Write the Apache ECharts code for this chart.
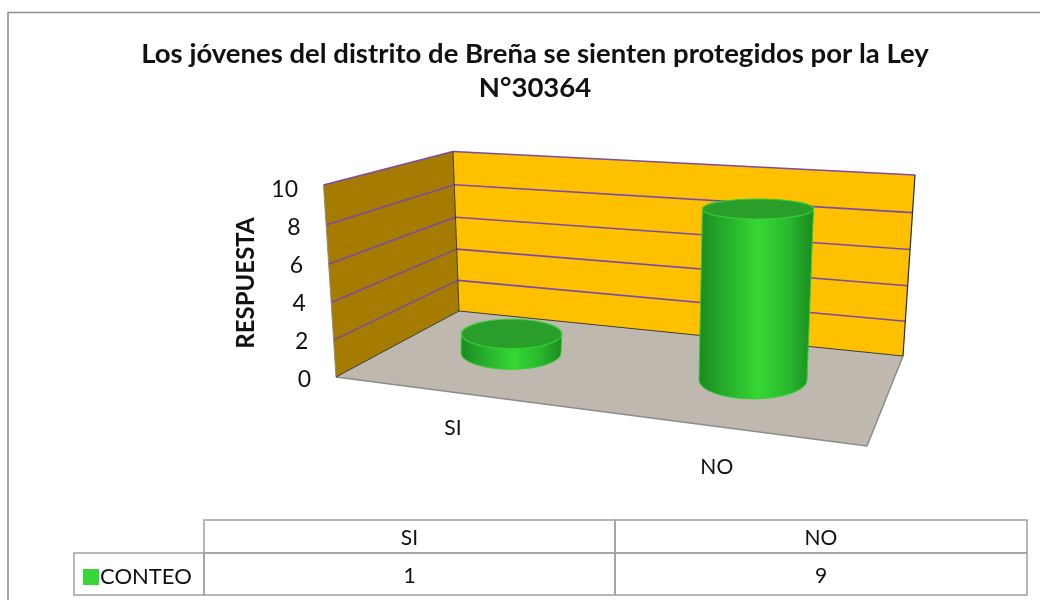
<!DOCTYPE html>
<html>
<head>
<meta charset="utf-8">
<style>html,body{margin:0;padding:0;background:#fff}#chart{width:1040px;height:600px}</style>
<script src="https://cdn.jsdelivr.net/npm/echarts@6/dist/echarts.min.js"></script>
</head>
<body>
<div id="chart"></div>
<script>
// datos del grafico
const categories = ['SI', 'NO'];
const conteo = [1, 9];
const yTicks = [0, 2, 4, 6, 8, 10];
const seriesName = 'CONTEO';
const yName = 'RESPUESTA';
const titleText = 'Los jóvenes del distrito de Breña se sienten protegidos por la Ley\nN°30364';

const FONT = 'Lato, "Noto Sans", sans-serif';
const GREEN = '#35d835';

// caja 3D: esquinas en pixeles (pared izq, pared fondo, piso)
const frontBottom = [336, 377], frontTop = [323.5, 185];
const backBottom = [459, 311], backTop = [453, 151.5];
const rightBottom = [903, 356], rightTop = [915, 175];
const floorFront = [867, 446];

function lerp(a, b, t) {
    return [a[0] + (b[0] - a[0]) * t, a[1] + (b[1] - a[1]) * t];
}

// ligera perspectiva en la altura
function heightAt(a, b, tick) {
    const t = tick / yTicks[yTicks.length - 1];
    return lerp(a, b, t - 0.05 * t * (1 - t));
}

function renderWalls(params, api) {
    const children = [];
    const poly = (points, fill, stroke, width) => ({
        type: 'polygon',
        shape: { points },
        style: { fill, stroke, lineWidth: width }
    });
    const seg = (p, q, color, width) => ({
        type: 'line',
        shape: { x1: p[0], y1: p[1], x2: q[0], y2: q[1] },
        style: { stroke: color, lineWidth: width }
    });
    children.push(poly([frontBottom, backBottom, rightBottom, floorFront], '#bfb8ae', null, 0));
    children.push(seg(frontBottom, floorFront, '#8c8c8c', 1.5));
    children.push(seg(floorFront, rightBottom, '#8c8c8c', 1.5));
    children.push(poly([frontBottom, frontTop, backTop, backBottom], '#a67c00', null, 0));
    children.push(poly([backBottom, backTop, rightTop, rightBottom], '#ffc000', null, 0));
    yTicks.forEach(tick => {
        if (tick === 0) return;
        const f = heightAt(frontBottom, frontTop, tick);
        const b = heightAt(backBottom, backTop, tick);
        const r = heightAt(rightBottom, rightTop, tick);
        children.push(seg(f, b, '#7b4aa8', 1.6));
        children.push(seg(b, r, '#7b4aa8', 1.6));
    });
    children.push(seg(frontBottom, frontTop, '#8c8c8c', 1));
    children.push(seg(frontBottom, backBottom, '#3a3a3a', 1));
    children.push(seg(backBottom, backTop, '#3a3a3a', 1));
    children.push(seg(backBottom, rightBottom, '#3a3a3a', 1));
    children.push(seg(rightBottom, rightTop, '#2a2a2a', 1.2));
    return { type: 'group', children };
}

function renderCylinder(params, api) {
    const cat = api.value(0);
    const val = api.value(1);
    const zero = api.coord([cat, 0]);
    const h = api.size([0, val])[1];
    const bx = zero[0];
    // el piso baja hacia la derecha
    const by = zero[1] - 25 + (bx - 511) * 0.1116;
    const tx = bx + h * 0.029;
    const ty = by - h;
    const ry = y => 10 + 0.0003 * (y - 208) * (y - 208);
    const rb = 50 + (bx - 511) * 0.0165;
    const rt = rb + h * 0.009;
    const grad = new echarts.graphic.LinearGradient(0, 0, 1, 0, [
        { offset: 0, color: '#1a8a20' },
        { offset: 0.2, color: '#25a82a' },
        { offset: 0.52, color: GREEN },
        { offset: 0.78, color: '#2ab82e' },
        { offset: 1, color: '#1a8a20' }
    ]);
    const rbY = ry(by), rtY = ry(ty);
    const body = 'M' + (tx - rt) + ' ' + ty + ' L' + (bx - rb) + ' ' + by +
        ' A' + rb + ' ' + rbY + ' 0 0 0 ' + (bx + rb) + ' ' + by +
        ' L' + (tx + rt) + ' ' + ty + ' Z';
    // etiqueta de categoria sobre el borde frontal del piso
    const lx = 453 + (bx - 511) * 1.09;
    const ly = 428 + (bx - 511) * 0.161;
    return {
        type: 'group',
        children: [
            {
                type: 'path',
                shape: { pathData: body },
                style: { fill: grad, stroke: '#32cf34', lineWidth: 1 }
            },
            {
                type: 'ellipse',
                shape: { cx: tx, cy: ty, rx: rt, ry: rtY },
                style: { fill: '#2a9e2a', stroke: '#32cf34', lineWidth: 1.2 }
            },
            {
                type: 'text',
                style: {
                    x: lx, y: ly, text: categories[cat],
                    fill: '#111', font: '21px ' + FONT,
                    align: 'center', verticalAlign: 'middle'
                }
            }
        ]
    };
}

// tabla de datos debajo del grafico
function buildTable() {
    const line = '#a0a0a0';
    const left = 74, x0 = 204, x1 = 615, x2 = 1027, y0 = 520, y1 = 553, y2 = 595;
    const xs = [x0, x1, x2];
    const els = [];
    const rect = (x, y, w, h) => ({
        type: 'rect',
        shape: { x, y, width: w, height: h },
        style: { fill: 'none', stroke: line, lineWidth: 1.5 }
    });
    const label = (x, y, text) => ({
        type: 'text',
        style: { x, y, text, fill: '#111', font: '21px ' + FONT, align: 'center', verticalAlign: 'middle' }
    });
    els.push(rect(left, y1, x0 - left, y2 - y1));
    categories.forEach((c, i) => {
        const w = xs[i + 1] - xs[i];
        els.push(rect(xs[i], y0, w, y1 - y0));
        els.push(rect(xs[i], y1, w, y2 - y1));
        els.push(label(xs[i] + w / 2, (y0 + y1) / 2 + 2, c));
        els.push(label(xs[i] + w / 2, (y1 + y2) / 2 + 2, String(conteo[i])));
    });
    // marco exterior
    els.push({
        type: 'polyline',
        shape: { points: [[8, 600], [8, 12.5], [1040, 12.5]] },
        style: { fill: 'none', stroke: '#8e8e8e', lineWidth: 1.5 }
    });
    return els;
}

const labelRich = {};
yTicks.forEach(t => {
    labelRich['t' + t] = {
        fontFamily: FONT, fontSize: 23, color: '#111',
        padding: [3, t * 1.3, 0, 0]
    };
});

const chart = echarts.init(document.getElementById('chart'));
chart.setOption({
    animation: false,
    backgroundColor: '#fff',
    title: {
        text: titleText,
        left: 530,
        top: 32,
        textAlign: 'center',
        textStyle: { fontFamily: FONT, fontSize: 27.5, fontWeight: 'bold', color: '#111', lineHeight: 34 }
    },
    legend: {
        data: [seriesName],
        left: 78,
        top: 561,
        icon: 'rect',
        itemWidth: 16,
        itemHeight: 16,
        itemGap: 0,
        selectedMode: false,
        textStyle: { fontFamily: FONT, fontSize: 22, color: '#111', padding: [0, 0, 0, -4] }
    },
    grid: { left: 390, top: 188, width: 484, height: 190 },
    xAxis: { type: 'category', data: categories, show: false },
    yAxis: {
        type: 'value',
        min: 0,
        max: 10,
        interval: 2,
        offset: 79,
        name: yName,
        nameLocation: 'middle',
        nameGap: 53,
        nameTextStyle: { fontFamily: FONT, fontSize: 24, fontWeight: 'bold', color: '#111' },
        axisLine: { show: false },
        axisTick: { show: false },
        splitLine: { show: false },
        axisLabel: {
            margin: 0,
            formatter: v => '{t' + v + '|' + v + '}',
            rich: labelRich
        }
    },
    graphic: buildTable(),
    series: [
        {
            type: 'custom',
            name: 'paredes',
            data: [[0, 0]],
            silent: true,
            z: 1,
            renderItem: renderWalls
        },
        {
            type: 'custom',
            name: seriesName,
            itemStyle: { color: GREEN },
            encode: { x: 0, y: 1 },
            data: conteo.map((v, i) => [i, v]),
            z: 2,
            renderItem: renderCylinder
        }
    ]
});
</script>
</body>
</html>
